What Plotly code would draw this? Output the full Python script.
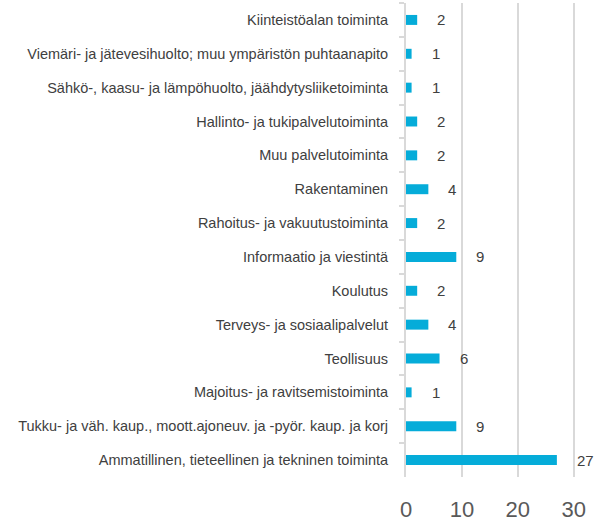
import plotly.graph_objects as go

categories = [
    "Kiinteistöalan toiminta",
    "Viemäri- ja jätevesihuolto; muu ympäristön puhtaanapito",
    "Sähkö-, kaasu- ja lämpöhuolto, jäähdytysliiketoiminta",
    "Hallinto- ja tukipalvelutoiminta",
    "Muu palvelutoiminta",
    "Rakentaminen",
    "Rahoitus- ja vakuutustoiminta",
    "Informaatio ja viestintä",
    "Koulutus",
    "Terveys- ja sosiaalipalvelut",
    "Teollisuus",
    "Majoitus- ja ravitsemistoiminta",
    "Tukku- ja väh. kaup., moott.ajoneuv. ja -pyör. kaup. ja korj",
    "Ammatillinen, tieteellinen ja tekninen toiminta",
]
values = [2, 1, 1, 2, 2, 4, 2, 9, 2, 4, 6, 1, 9, 27]
x_ticks = [0, 10, 20, 30]

BAR = "#05acd9"
GRID = "#d9d9d9"
TXT = "#404040"
FONT = "Liberation Sans"

fig = go.Figure(
    go.Bar(
        x=values,
        y=categories,
        orientation="h",
        marker=dict(color=BAR, line=dict(width=0)),
        hoverinfo="x+y",
    )
)

for c, v in zip(categories, values):
    fig.add_annotation(
        x=v, y=c, text=str(v), showarrow=False,
        xanchor="left", yanchor="middle", xshift=18,
        font=dict(family=FONT, size=15, color=TXT),
    )

fig.update_layout(
    width=598, height=524,
    margin=dict(l=406, r=2, t=3, b=45),
    paper_bgcolor="white", plot_bgcolor="white",
    bargap=0.706,
    showlegend=False,
    font=dict(family=FONT, color=TXT),
)
fig.update_xaxes(
    range=[0, 34], tickvals=x_ticks, ticktext=[str(t) for t in x_ticks],
    showgrid=True, gridcolor=GRID, gridwidth=2,
    zeroline=False, showline=False, ticks="",
    tickfont=dict(family=FONT, size=22, color="#595959"),
    ticklabelstandoff=17,
)
fig.update_yaxes(
    autorange="reversed", showgrid=False,
    showline=True, linecolor=GRID, linewidth=2,
    ticks="outside", tickson="boundaries", ticklen=5, tickcolor=GRID, tickwidth=2,
    tickfont=dict(family=FONT, size=14.5, color=TXT),
    ticklabelstandoff=13,
)

fig.write_html(
    "out.html",
    config={"displayModeBar": False},
    post_script="document.body.style.margin='0';",
)
